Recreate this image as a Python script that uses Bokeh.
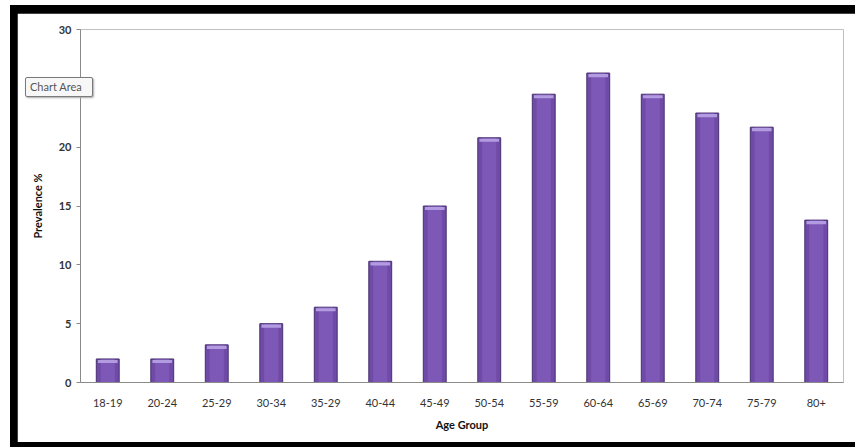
from bokeh.plotting import figure
from bokeh.models import FactorRange, Range1d, FixedTicker, Div
from bokeh.layouts import column
from bokeh.embed import file_html
from bokeh.resources import INLINE

categories = ["18-19", "20-24", "25-29", "30-34", "35-29", "40-44", "45-49",
              "50-54", "55-59", "60-64", "65-69", "70-74", "75-79", "80+"]
prevalence = [2.0, 2.0, 3.2, 5.0, 6.4, 10.3, 15.0, 20.8, 24.5, 26.3, 24.5, 22.9, 21.7, 13.8]
y_ticks = [0, 5, 10, 15, 20, 25, 30]

FONT = "Lato"

p = figure(width=838, height=429, x_range=FactorRange(*categories, range_padding=0),
           y_range=Range1d(0, 30), output_backend="svg", toolbar_location=None,
           min_border_left=63, min_border_right=12, min_border_top=16, min_border_bottom=60,
           margin=(8, 0, 5, 7), align="start")
p.outline_line_color = None
p.background_fill_color = "white"
p.border_fill_color = "white"
p.xgrid.grid_line_color = None
p.ygrid.grid_line_color = None

# main bars
p.vbar(x=categories, top=prevalence, width=0.42, fill_color="#6f4aa6",
       line_color="#47306e", line_width=1)
# lighter body stripe
p.vbar(x=categories, top=prevalence, width=0.26, fill_color="#8a64c2",
       fill_alpha=0.55, line_color=None)
# top cap highlight
caps_bottom = [v - 0.35 for v in prevalence]
caps_top = [v - 0.08 for v in prevalence]
p.vbar(x=categories, bottom=caps_bottom, top=caps_top, width=0.36,
       fill_color="#b9a3e6", fill_alpha=0.9, line_color=None)

# axes
p.yaxis.ticker = FixedTicker(ticks=y_ticks)
p.yaxis.axis_line_color = "#8a8a8a"
p.yaxis.major_tick_line_color = "#8a8a8a"
p.yaxis.major_tick_out = 4
p.yaxis.major_tick_in = 0
p.yaxis.minor_tick_line_color = None
p.yaxis.major_label_text_font = FONT
p.yaxis.major_label_text_font_size = "11px"
p.yaxis.major_label_text_color = "#333333"
p.yaxis.major_label_text_font_style = "bold"
p.yaxis.axis_label = "Prevalence %"
p.yaxis.axis_label_text_font = FONT
p.yaxis.axis_label_text_font_size = "11px"
p.yaxis.axis_label_text_font_style = "bold"
p.yaxis.axis_label_text_color = "#111111"
p.yaxis.axis_label_standoff = 12

p.xaxis.axis_line_color = "#8a8a8a"
p.xaxis.major_tick_line_color = None
p.xaxis.minor_tick_line_color = None
p.xaxis.major_label_text_font = FONT
p.xaxis.major_label_text_font_size = "11px"
p.xaxis.major_label_text_color = "#333333"
p.xaxis.major_label_standoff = 10
p.xaxis.axis_label = "Age Group"
p.xaxis.axis_label_text_font = FONT
p.xaxis.axis_label_text_font_size = "11px"
p.xaxis.axis_label_text_font_style = "bold"
p.xaxis.axis_label_text_color = "#111111"
p.xaxis.axis_label_standoff = 8

# "Chart Area" tooltip (overlay)
tip = Div(text="Chart Area", width=68, height=20,
          styles={"position": "absolute", "left": "10px", "top": "67px",
                  "border": "1px solid #7a7a7a", "background-color": "#f7f7f7",
                  "padding": "1px 4px", "font-family": "Lato", "font-size": "11px",
                  "color": "#555555", "z-index": "10", "box-sizing": "border-box",
                  "box-shadow": "1px 1px 2px #aaaaaa", "line-height": "16px",
                  "border-radius": "2px"})

layout = column(p, tip, margin=(5, 0, 0, 10), styles={"background-color": "black"})

open("out.html", "w").write(file_html(layout, INLINE))
